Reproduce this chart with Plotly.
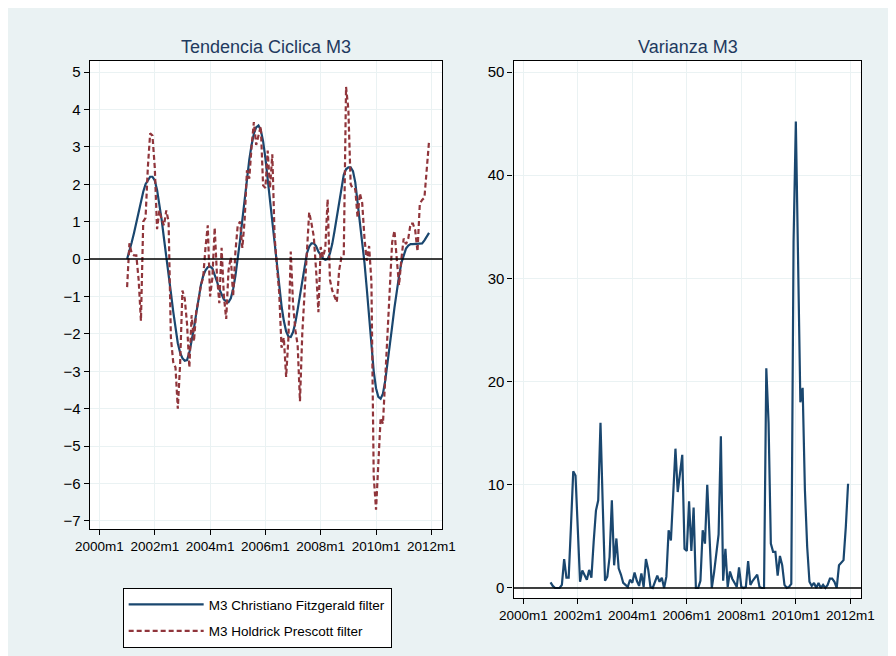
import plotly.graph_objects as go

# ---------------- data ----------------
years = list(range(2001, 2012))
periods = [f"{y}m{m}" for y in years for m in range(1, 13)]

cf_filter = [
    0.0, 0.2, 0.45, 0.7, 1.0, 1.3, 1.55, 1.8, 2.0, 2.12, 2.2, 2.2,          # 2001
    2.1, 1.85, 1.5, 1.05, 0.55, 0.1, -0.4, -0.9, -1.4, -1.85, -2.25, -2.5,  # 2002
    -2.65, -2.72, -2.7, -2.5, -2.2, -1.85, -1.45, -1.05, -0.7, -0.45, -0.3, -0.22,  # 2003
    -0.2, -0.25, -0.4, -0.6, -0.8, -0.95, -1.08, -1.13, -1.15, -1.05, -0.8, -0.45,  # 2004
    0.0, 0.5, 1.05, 1.6, 2.15, 2.65, 3.05, 3.35, 3.52, 3.57, 3.45, 3.15,    # 2005
    2.7, 2.15, 1.55, 0.95, 0.35, -0.2, -0.75, -1.25, -1.65, -1.93, -2.07, -2.08,  # 2006
    -1.95, -1.7, -1.35, -0.95, -0.55, -0.15, 0.15, 0.33, 0.42, 0.42, 0.35, 0.2,   # 2007
    0.1, 0.02, -0.02, 0.0, 0.15, 0.4, 0.75, 1.15, 1.55, 1.95, 2.25, 2.4,    # 2008
    2.45, 2.45, 2.35, 2.05, 1.55, 1.0, 0.45, -0.1, -0.8, -1.6, -2.4, -3.0,  # 2009
    -3.45, -3.68, -3.73, -3.6, -3.25, -2.8, -2.3, -1.8, -1.3, -0.85, -0.45, -0.1,  # 2010
    0.12, 0.28, 0.36, 0.4, 0.4, 0.4, 0.4, 0.4, 0.42, 0.5, 0.6, 0.7,         # 2011
]

hp_filter = [
    -0.75, 0.42, 0.15, 0.1, 0.1, -0.55, -1.65, 1.0, 1.1, 2.45, 3.36, 3.3,   # 2001
    2.45, 0.8, 1.3, 1.05, 0.9, 1.3, 1.0, -2.1, -2.75, -2.9, -4.0, -2.8,     # 2002
    -0.84, -1.05, -1.73, -2.9, -1.5, -2.2, -1.4, -1.1, -0.7, -0.5, 0.3, 0.9,  # 2003
    -1.0, -0.5, 0.84, -0.45, -1.18, 0.3, -1.0, -1.6, -0.3, 0.05, -1.0, 0.2,  # 2004
    0.9, 1.0, 0.3, 1.05, 2.37, 2.15, 3.0, 3.66, 3.05, 3.3, 3.55, 1.97,      # 2005
    1.9, 2.9, 1.9, 2.8, 0.6, -0.2, -0.9, -2.37, -2.1, -3.15, -2.1, 0.2,     # 2006
    -1.2, -1.9, -2.3, -3.8, -2.0, -0.9, 0.3, 1.25, 0.95, 0.6, -0.3, -1.42,  # 2007
    0.32, 0.05, 0.3, 1.6, -0.55, -0.84, -1.0, -1.15, -0.3, 0.05, 0.1, 4.6,  # 2008
    4.0, 2.0, 1.87, 1.87, 1.1, 1.76, 1.5, 0.55, -0.05, 0.35, -0.6, -5.8,    # 2009
    -6.7, -5.57, -4.24, -4.4, -3.08, -2.0, -0.77, 0.45, 0.76, 0.0, -0.7, 0.0,  # 2010
    0.55, 0.4, 0.55, 0.95, 0.95, 0.77, 0.2, 1.48, 1.58, 1.64, 2.43, 3.15,   # 2011
]

variance = [
    0.55, 0.2, 0.0, 0.0, 0.0, 0.3, 2.8, 1.0, 1.0, 6.0, 11.3, 10.9,          # 2001
    6.0, 0.6, 1.7, 1.2, 0.8, 1.75, 1.0, 4.5, 7.5, 8.5, 16.0, 8.0,           # 2002
    0.7, 1.1, 3.0, 8.5, 2.2, 4.8, 1.9, 1.3, 0.5, 0.3, 0.1, 0.8,             # 2003
    0.5, 1.5, 0.7, 0.2, 1.4, 0.1, 2.8, 1.8, 0.1, 0.0, 0.7, 1.2,             # 2004
    0.6, 1.0, 0.0, 1.1, 5.6, 4.6, 9.0, 13.5, 9.3, 11.0, 12.9, 3.8,          # 2005
    3.6, 8.4, 3.6, 7.8, 0.0, 0.0, 0.7, 5.6, 4.3, 10.0, 4.5, 0.0,            # 2006
    1.5, 3.6, 5.2, 14.7, 0.7, 3.8, 0.1, 1.6, 0.9, 0.5, 0.1, 2.0,            # 2007
    0.1, 0.0, 0.1, 2.6, 0.3, 0.7, 1.0, 1.3, 0.1, 0.0, 0.0, 21.3,            # 2008
    16.0, 4.3, 3.5, 3.5, 1.2, 3.1, 2.2, 0.3, 0.0, 0.1, 0.4, 33.5,           # 2009
    45.2, 31.0, 18.0, 19.4, 9.5, 4.0, 0.6, 0.2, 0.5, 0.0, 0.5, 0.0,         # 2010
    0.3, 0.0, 0.3, 0.9, 0.9, 0.6, 0.0, 2.2, 2.5, 2.7, 5.9, 10.1,            # 2011
]

x_tick_labels = ["2000m1", "2002m1", "2004m1", "2006m1", "2008m1", "2010m1", "2012m1"]
left_y_ticks = [-7, -6, -5, -4, -3, -2, -1, 0, 1, 2, 3, 4, 5]
right_y_ticks = [0, 10, 20, 30, 40, 50]

series_names = ["M3 Christiano Fitzgerald filter", "M3 Holdrick Prescott filter"]
panel_titles = ["Tendencia Ciclica M3", "Varianza M3"]


def period_to_num(p):
    y, m = p.split("m")
    return int(y) + (int(m) - 1) / 12.0


x = [period_to_num(p) for p in periods]
x_tick_vals = [period_to_num(t) for t in x_tick_labels]

# ---------------- figure ----------------
W, H = 896, 656
OFF = 8  # page margin of the browser
BG = "#EAF2F3"
NAVY = "#1A476F"
MAROON = "#90353B"
FONT = "Liberation Sans, Arial, Helvetica, sans-serif"

fig = go.Figure()
fig.add_trace(go.Scatter(x=x, y=cf_filter, mode="lines", name=series_names[0],
                         line=dict(color=NAVY, width=2.2), xaxis="x", yaxis="y",
                         legendgroup="a"))
fig.add_trace(go.Scatter(x=x, y=hp_filter, mode="lines", name=series_names[1],
                         line=dict(color=MAROON, width=2.2, dash="5px,3px"),
                         xaxis="x", yaxis="y", legendgroup="b"))
fig.add_trace(go.Scatter(x=x, y=variance, mode="lines", name="Varianza",
                         line=dict(color=NAVY, width=2.2), xaxis="x2", yaxis="y2",
                         showlegend=False))


def px_x(p):
    return (p - OFF) / W


def px_y(p):
    return 1 - (p - OFF) / H


axis_common = dict(showline=True, mirror=True, linecolor="black", linewidth=1.3,
                   ticks="outside", ticklen=5, tickcolor="black", tickwidth=1,
                   showgrid=True, gridcolor=BG, gridwidth=1.2, zeroline=False)

fig.update_layout(
    width=W, height=H,
    margin=dict(l=0, r=0, t=0, b=0),
    paper_bgcolor=BG, plot_bgcolor="white",
    font=dict(family=FONT, color="black"),
    xaxis=dict(domain=[px_x(77), px_x(441)], range=[1999.65, 2012.385], anchor="y",
               tickvals=x_tick_vals, ticktext=x_tick_labels,
               tickfont=dict(size=13.5), **axis_common),
    yaxis=dict(domain=[px_y(529), px_y(61)], range=[-7.214, 5.294], anchor="x",
               tickvals=left_y_ticks, tickfont=dict(size=15), **axis_common),
    xaxis2=dict(domain=[px_x(515), px_x(874)], range=[1999.645, 2012.39], anchor="y2",
                tickvals=x_tick_vals, ticktext=x_tick_labels,
                tickfont=dict(size=13.5), **axis_common),
    yaxis2=dict(domain=[px_y(598), px_y(61)], range=[-0.97, 51.07], anchor="x2",
                tickvals=right_y_ticks, tickfont=dict(size=15), **axis_common),
    legend=dict(x=px_x(111), xanchor="left", y=px_y(588), yanchor="top",
                bgcolor="white", bordercolor="black", borderwidth=1,
                font=dict(size=13.5, color="black"), tracegroupgap=6,
                traceorder="grouped", itemwidth=75),
    showlegend=True,
)

fig.add_shape(type="line", xref="x domain", yref="y", x0=0, x1=1, y0=0, y1=0,
              line=dict(color="black", width=1.5))
fig.add_shape(type="line", xref="x2 domain", yref="y2", x0=0, x1=1, y0=0, y1=0,
              line=dict(color="black", width=1.5))

title_color = "#1F3A5F"
fig.add_annotation(text=panel_titles[0], x=px_x(259), y=px_y(47), xref="paper", yref="paper",
                   xanchor="center", yanchor="middle",
                   showarrow=False, font=dict(size=18, color=title_color))
fig.add_annotation(text=panel_titles[1], x=px_x(695), y=px_y(47), xref="paper", yref="paper",
                   xanchor="center", yanchor="middle",
                   showarrow=False, font=dict(size=18, color=title_color))

fig.write_html("out.html")
